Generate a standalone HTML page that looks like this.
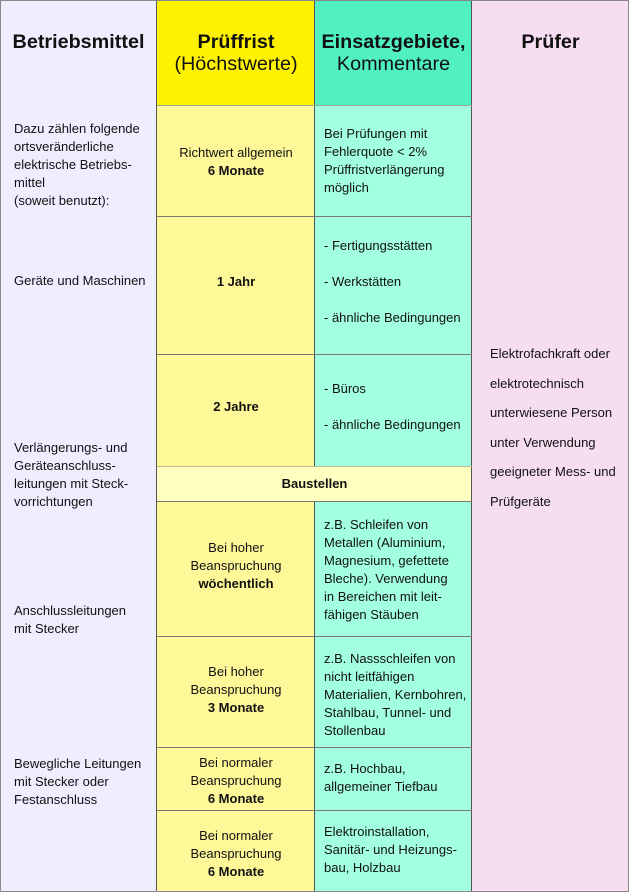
<!DOCTYPE html>
<html><head><meta charset="utf-8"><style>
*{margin:0;padding:0;box-sizing:border-box}
body{width:629px;height:892px;position:relative;overflow:hidden;font-family:"Liberation Sans",sans-serif;font-size:13px;color:#111;background:#fff}
.r{position:absolute}
.t{position:absolute;white-space:nowrap;line-height:18px}
.c{text-align:center}
.h{font-size:19.8px;font-weight:bold;line-height:22px}
.h2{font-size:19.8px;line-height:22px}
b{font-weight:bold}
.hl{position:absolute;height:1px;background:#777}
</style></head><body>
<div class="r" style="left:0;top:0;width:157px;height:892px;background:#eeeeff"></div>
<div class="r" style="left:157px;top:0;width:158px;height:105px;background:#fff200"></div>
<div class="r" style="left:157px;top:105px;width:158px;height:787px;background:#fff899"></div>
<div class="r" style="left:315px;top:0;width:157px;height:105px;background:#50f0c0"></div>
<div class="r" style="left:315px;top:105px;width:157px;height:787px;background:#a2ffe0"></div>
<div class="r" style="left:472px;top:0;width:157px;height:892px;background:#f6ddf1"></div>
<div class="r" style="left:157px;top:467px;width:315px;height:34px;background:#ffffc0"></div>
<div class="r" style="left:156px;top:0;width:1px;height:892px;background:#555"></div>
<div class="r" style="left:314px;top:0;width:1px;height:467px;background:#555"></div>
<div class="r" style="left:314px;top:501px;width:1px;height:391px;background:#555"></div>
<div class="r" style="left:471px;top:0;width:1px;height:892px;background:#555"></div>
<div class="r" style="left:0;top:0;width:629px;height:892px;border:1px solid #888"></div>
<div class="hl" style="left:157px;top:105px;width:315px;background:#9a9"></div>
<div class="hl" style="left:157px;top:216px;width:315px"></div>
<div class="hl" style="left:157px;top:354px;width:315px"></div>
<div class="hl" style="left:157px;top:466px;width:315px;background:#bb9"></div>
<div class="hl" style="left:157px;top:501px;width:315px"></div>
<div class="hl" style="left:157px;top:636px;width:315px"></div>
<div class="hl" style="left:157px;top:747px;width:315px"></div>
<div class="hl" style="left:157px;top:810px;width:315px"></div>
<div class="t c h" style="left:0;width:157px;top:31px">Betriebsmittel</div>
<div class="t c h" style="left:157px;width:158px;top:31px">Prüffrist</div>
<div class="t c h2" style="left:157px;width:158px;top:53px">(Höchstwerte)</div>
<div class="t c h" style="left:315px;width:157px;top:31px">Einsatzgebiete,</div>
<div class="t c h2" style="left:315px;width:157px;top:53px">Kommentare</div>
<div class="t c h" style="left:472px;width:157px;top:31px">Prüfer</div>
<div class="t" style="left:14px;top:120px">Dazu zählen folgende<br>ortsveränderliche<br>elektrische Betriebs-<br>mittel<br>(soweit benutzt):</div>
<div class="t" style="left:14px;top:272px">Geräte und Maschinen</div>
<div class="t" style="left:14px;top:439px">Verlängerungs- und<br>Geräteanschluss-<br>leitungen mit Steck-<br>vorrichtungen</div>
<div class="t" style="left:14px;top:602px">Anschlussleitungen<br>mit Stecker</div>
<div class="t" style="left:14px;top:755px">Bewegliche Leitungen<br>mit Stecker oder<br>Festanschluss</div>
<div class="t c" style="left:157px;width:158px;top:144px">Richtwert allgemein<br><b>6 Monate</b></div>
<div class="t c" style="left:157px;width:158px;top:273px"><b>1 Jahr</b></div>
<div class="t c" style="left:157px;width:158px;top:398px"><b>2 Jahre</b></div>
<div class="t c" style="left:157px;width:315px;top:475px"><b>Baustellen</b></div>
<div class="t c" style="left:157px;width:158px;top:539px">Bei hoher<br>Beanspruchung<br><b>wöchentlich</b></div>
<div class="t c" style="left:157px;width:158px;top:663px">Bei hoher<br>Beanspruchung<br><b>3 Monate</b></div>
<div class="t c" style="left:157px;width:158px;top:754px">Bei normaler<br>Beanspruchung<br><b>6 Monate</b></div>
<div class="t c" style="left:157px;width:158px;top:827px">Bei normaler<br>Beanspruchung<br><b>6 Monate</b></div>
<div class="t" style="left:324px;top:125px">Bei Prüfungen mit<br>Fehlerquote &lt; 2%<br>Prüffristverlängerung<br>möglich</div>
<div class="t" style="left:324px;top:228px;line-height:36px">- Fertigungsstätten<br>- Werkstätten<br>- ähnliche Bedingungen</div>
<div class="t" style="left:324px;top:371px;line-height:36px">- Büros<br>- ähnliche Bedingungen</div>
<div class="t" style="left:324px;top:516px">z.B. Schleifen von<br>Metallen (Aluminium,<br>Magnesium, gefettete<br>Bleche). Verwendung<br>in Bereichen mit leit-<br>fähigen Stäuben</div>
<div class="t" style="left:324px;top:650px">z.B. Nassschleifen von<br>nicht leitfähigen<br>Materialien, Kernbohren,<br>Stahlbau, Tunnel- und<br>Stollenbau</div>
<div class="t" style="left:324px;top:760px">z.B. Hochbau,<br>allgemeiner Tiefbau</div>
<div class="t" style="left:324px;top:823px">Elektroinstallation,<br>Sanitär- und Heizungs-<br>bau, Holzbau</div>
<div class="t" style="left:490px;top:339px;line-height:29.5px">Elektrofachkraft oder<br>elektrotechnisch<br>unterwiesene Person<br>unter Verwendung<br>geeigneter Mess- und<br>Prüfgeräte</div>
</body></html>
